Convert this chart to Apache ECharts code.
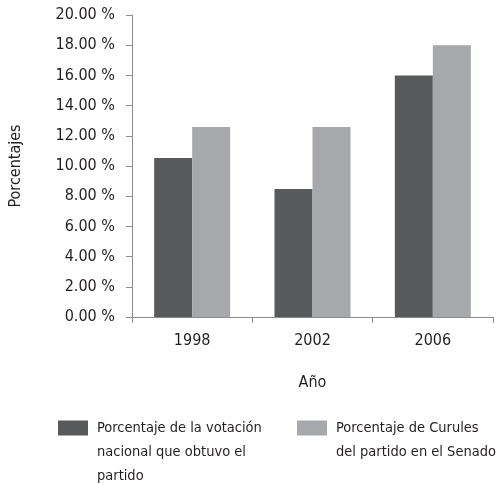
<!DOCTYPE html>
<html>
<head>
<meta charset="utf-8">
<script src="https://cdn.jsdelivr.net/npm/echarts@6/dist/echarts.min.js"></script>
<style>
  html, body { margin: 0; padding: 0; background: #fff; }
  #chart { width: 498px; height: 485px; }
</style>
</head>
<body>
<div id="chart"></div>
<script>
const years = ['1998', '2002', '2006']
const votacion = [10.53, 8.48, 16.0]
const curules = [12.58, 12.58, 18.0]
const seriesNames = ['Porcentaje de la votación nacional que obtuvo el partido', 'Porcentaje de Curules del partido en el Senado']
// leading blank lines keep the first text line level with the swatch
const legendLines = [
  '\n\nPorcentaje de la votación\nnacional que obtuvo el\npartido',
  '\nPorcentaje de Curules\ndel partido en el Senado',
]

const font = '"DejaVu Sans Condensed", sans-serif'
const ink = '#231f20'
const axisGray = '#8c8c8c'

const chart = echarts.init(document.getElementById('chart'))

const legendBase = {
  orient: 'vertical',
  icon: 'rect',
  itemWidth: 30,
  itemHeight: 15,
  padding: 0,
  selectedMode: false,
  textStyle: { fontFamily: font, fontSize: 14.5, color: ink, lineHeight: 24, padding: [0, 0, 0, 4] },
}

chart.setOption({
  backgroundColor: '#fff',
  textStyle: { fontFamily: font },
  grid: { left: 132, right: 5, top: 15, bottom: 168, outerBoundsMode: 'none' },
  legend: [
    {
      ...legendBase,
      left: 58,
      top: 368,
      data: [seriesNames[0]],
      formatter: () => legendLines[0],
    },
    {
      ...legendBase,
      left: 297,
      top: 392,
      data: [seriesNames[1]],
      formatter: () => legendLines[1],
    },
  ],
  xAxis: {
    type: 'category',
    data: years,
    name: 'Año',
    nameLocation: 'middle',
    nameGap: 58,
    nameTextStyle: { fontFamily: font, fontSize: 16, color: ink },
    axisLine: { lineStyle: { color: axisGray, width: 1 } },
    axisTick: { show: true, length: 6, lineStyle: { color: axisGray } },
    axisLabel: { fontFamily: font, fontSize: 16, color: ink, margin: 16 },
  },
  yAxis: {
    type: 'value',
    min: 0,
    max: 20,
    interval: 2,
    name: 'Porcentajes',
    nameLocation: 'middle',
    nameGap: 108,
    nameRotate: 90,
    nameTextStyle: { fontFamily: font, fontSize: 16, color: ink },
    axisLine: { show: true, lineStyle: { color: axisGray, width: 1 } },
    axisTick: { show: true, length: 6, lineStyle: { color: axisGray } },
    splitLine: { show: false },
    axisLabel: {
      fontFamily: font,
      fontSize: 16,
      color: ink,
      margin: 17,
      formatter: (v) => v.toFixed(2) + ' %',
    },
  },
  series: [
    {
      name: seriesNames[0],
      type: 'bar',
      data: votacion,
      barWidth: 38,
      barGap: '0%',
      itemStyle: { color: '#58595b' },
    },
    {
      name: seriesNames[1],
      type: 'bar',
      data: curules,
      barWidth: 38,
      barGap: '0%',
      itemStyle: { color: '#a7a8ab' },
    },
  ],
})
</script>
</body>
</html>
